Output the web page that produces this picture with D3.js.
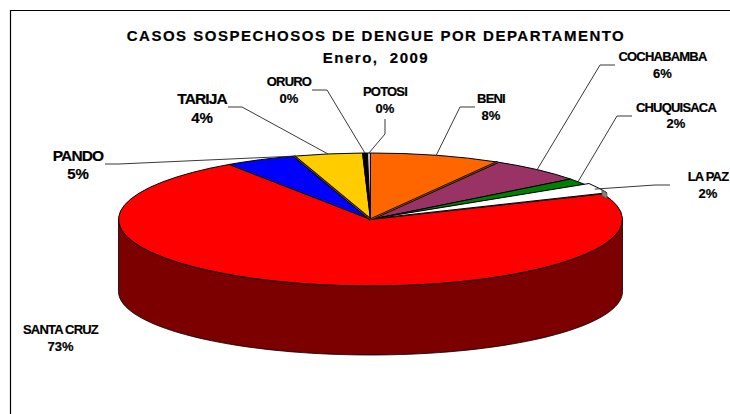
<!DOCTYPE html>
<html><head><meta charset="utf-8">
<script src="https://cdn.jsdelivr.net/npm/d3@7"></script>
<style>html,body{margin:0;padding:0;background:#fff}svg{display:block}text{font-family:"Liberation Sans",Arial,sans-serif;font-weight:bold;fill:#000;stroke:#000;stroke-width:.2}</style>
</head><body><div id="c"></div>
<script>
const categories=["BENI","COCHABAMBA","CHUQUISACA","LA PAZ","SANTA CRUZ","PANDO","TARIJA","ORURO","POTOSI"];
const shares=[8.4,6.2,1.6,2.5,71.8,4.6,4.4,0.3,0.2];
const percentLabels=["8%","6%","2%","2%","73%","5%","4%","0%","0%"];
const colors=["#FF6600","#993366","#008000","#FFFFFF","#FF0000","#0000FF","#FFCC00","#000000","#C0C0C0"];
const W=730,H=414,cx=370.5,cy=219.5,rx=252,ry=66.5,depth=72,bottomRy=63.5;
// label layout: centre x, name baseline, percent baseline, font sizes, letter-spacing, elbow start x, elbow x, elbow y
const layout=[
 {x:491,y1:103,y2:120,fs:13,ps:13,ls:-.8,a:475,b:460,c:107},
 {x:662.5,y1:61,y2:78,fs:13,ps:13,ls:-.8,a:615,b:600,c:65},
 {x:676,y1:112,y2:128,fs:13,ps:13,ls:-.8,a:632,b:617,c:116},
 {x:708,y1:181,y2:198,fs:13,ps:13,ls:-.8,a:670,b:655,c:185},
 {x:60.5,y1:334,y2:351,fs:13,ps:13,ls:-.8},
 {x:78,y1:161,y2:179,fs:15.5,ps:15,ls:-.9,a:105,b:119,c:164,atEnd:true},
 {x:202,y1:104,y2:123,fs:15.5,ps:15,ls:-.9,a:228,b:242,c:107},
 {x:289,y1:86,y2:103,fs:13,ps:13,ls:-.8,a:312,b:327,c:90},
 {x:385,y1:96,y2:113,fs:13,ps:13,ls:-.8,a:385,b:385,c:134,vert:119}
];
const svg=d3.select("#c").append("svg").attr("width",W).attr("height",H);
svg.append("rect").attr("width",W).attr("height",H).attr("fill","#fff");
svg.append("path").attr("d",`M10.5,${H}V10.5H${W}`).attr("fill","none").attr("stroke","#000").attr("stroke-width",1.2);
const pie=d3.pie().sort(null).value(d=>d)(shares);
const arc=d3.arc().innerRadius(0).outerRadius(rx);
const px=a=>cx+rx*Math.sin(a), py=a=>cy-ry*Math.cos(a);
const sy=ry/rx;
const ln=d3.line();
function wallPath(a0,a1,dep,bRy){
  const n=80,pts=d3.range(n+1).map(i=>a0+(a1-a0)*i/n);
  return ln(pts.map(a=>[px(a),py(a)]))+"L"+ln(pts.slice().reverse().map(a=>[px(a),cy+dep-bRy*Math.cos(a)])).slice(1)+"Z";
}
svg.append("path").attr("d",wallPath(Math.PI/2,3*Math.PI/2,depth,bottomRy)).attr("fill","#7C0000").attr("stroke","#000").attr("stroke-width",.8);
const order=[0,1,2,5,6,7,8,4,3];
const topFaces=svg.append("g").attr("transform",`translate(${cx},${cy}) scale(1,${sy})`);
const whiteSlice=pie[3];
order.forEach(i=>{
  const d=pie[i];
  if(i===3) svg.append("path").attr("d",wallPath(whiteSlice.endAngle-.05,whiteSlice.endAngle,6,ry)).attr("transform","translate(4,-1)").attr("fill","#808080").attr("stroke","#333").attr("stroke-width",.5);
  topFaces.append("path").attr("d",arc(d))
   .attr("transform",i===3?"translate(4,-4)":null)
   .attr("fill",colors[i]).attr("stroke","#000").attr("stroke-width",1)
   .attr("vector-effect","non-scaling-stroke").attr("stroke-linejoin","round");
});
// doubled brown edges where a slice's side shows
[0,5].forEach(i=>{
  const a=pie[i].endAngle, seg=ln([[cx,cy],[px(a),py(a)]]);
  svg.append("path").attr("d",seg).attr("stroke","#000").attr("stroke-width",2.4).attr("fill","none");
  svg.append("path").attr("d",seg).attr("stroke","#8A5A00").attr("stroke-width",.9).attr("fill","none");
});
pie.forEach((d,i)=>{
  const L=layout[i]; if(L.a===undefined) return;
  const m=L.atEnd?d.endAngle:(d.startAngle+d.endAngle)/2, ex=px(m), ey=py(m);
  const s=L.vert!==undefined?[L.a,L.vert]:[L.a,L.c];
  svg.append("path").attr("d",ln([s,[L.b,L.c],[ex,ey]])).attr("fill","none").attr("stroke","#222").attr("stroke-width",.9);
});
categories.forEach((c,i)=>{
  const L=layout[i];
  svg.append("text").attr("x",L.x).attr("y",L.y1).attr("text-anchor","middle").attr("font-size",L.fs).attr("letter-spacing",L.ls).text(c);
  svg.append("text").attr("x",L.x).attr("y",L.y2).attr("text-anchor","middle").attr("font-size",L.ps).text(percentLabels[i]);
});
svg.append("text").attr("x",376).attr("y",41).attr("text-anchor","middle").attr("font-size",15).attr("letter-spacing",1.5).text("CASOS SOSPECHOSOS DE DENGUE POR DEPARTAMENTO");
svg.append("text").attr("x",376).attr("y",63).attr("text-anchor","middle").attr("font-size",15).attr("letter-spacing",1.5).style("white-space","pre").text("Enero,  2009");
</script></body></html>
